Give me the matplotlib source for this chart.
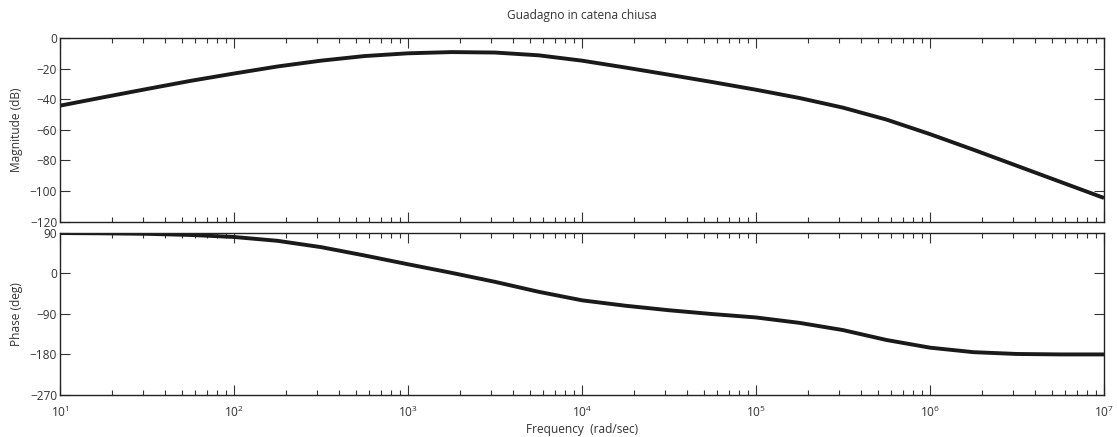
import matplotlib
matplotlib.use("Agg")
import matplotlib.pyplot as plt
from matplotlib.ticker import LogLocator, FixedLocator, NullFormatter, LogFormatterSciNotation

plt.rcParams['font.family'] = ['Open Sans', 'DejaVu Sans']
plt.rcParams['mathtext.fontset'] = 'custom'
plt.rcParams['mathtext.rm'] = 'Open Sans'

# Magnitude readings: log10 of frequency (rad/sec) and gain (dB)
mag_logf = [1.0, 1.25, 1.5, 1.75, 2.0, 2.25, 2.5, 2.75, 3.0, 3.25, 3.5, 3.75,
            4.0, 4.25, 4.5, 4.75, 5.0, 5.25, 5.5, 5.75, 6.0, 6.25, 6.5, 6.75, 7.0]
mag_db = [-44.2, -38.7, -33.3, -28.0, -23.2, -18.6, -14.8, -11.8, -10.0, -9.2, -9.5, -11.3,
          -14.8, -19.3, -24.0, -28.8, -33.8, -39.2, -45.5, -53.3, -62.8, -73.0, -83.5, -94.0, -104.5]

# Phase readings: log10 of frequency (rad/sec) and phase (deg)
ph_logf = [1.0, 1.25, 1.5, 1.75, 2.0, 2.25, 2.5, 2.75, 3.0, 3.25, 3.5, 3.75,
           4.0, 4.25, 4.5, 4.75, 5.0, 5.25, 5.5, 5.75, 6.0, 6.25, 6.5, 6.75, 7.0]
ph_deg = [89.2, 88.6, 87.5, 85.0, 80.5, 72.0, 58.0, 39.5, 20.0, 1.0, -19.0, -41.0,
          -60.0, -72.0, -82.0, -90.5, -98.0, -110.0, -126.0, -148.0, -165.0, -175.0, -179.0, -180.0, -180.0]

x_ticks = [1e1, 1e2, 1e3, 1e4, 1e5, 1e6, 1e7]
mag_ticks = [0, -20, -40, -60, -80, -100, -120]
ph_ticks = [90, 0, -90, -180, -270]

title = "Guadagno in catena chiusa"
ylab_mag = "Magnitude (dB)"
ylab_ph = "Phase (deg)"
xlab = "Frequency  (rad/sec)"

mag_freq = [10 ** v for v in mag_logf]
ph_freq = [10 ** v for v in ph_logf]

W, H = 1117, 437
fig = plt.figure(figsize=(W / 100, H / 100), dpi=100)
left = 60 / W
width = (1104 - 60) / W
ax1 = fig.add_axes([left, 1 - 221.7 / H, width, (221.7 - 38) / H])
ax2 = fig.add_axes([left, 1 - 395 / H, width, (395 - 232.7) / H])

fs = 8.6
tc = '#333333'
for ax in (ax1, ax2):
    ax.set_xscale('log')
    ax.set_xlim(10, 1e7)
    ax.xaxis.set_major_locator(FixedLocator(x_ticks))
    ax.xaxis.set_major_formatter(LogFormatterSciNotation())
    ax.xaxis.set_minor_locator(LogLocator(base=10, subs=range(2, 10), numticks=100))
    ax.xaxis.set_minor_formatter(NullFormatter())
    ax.tick_params(which='both', direction='in', top=True, right=True,
                   labelsize=fs, colors=tc)
    ax.tick_params(which='major', length=7, width=0.8)
    ax.tick_params(which='minor', length=3.5, width=0.8)
    for s in ax.spines.values():
        s.set_linewidth(1.0)
        s.set_color('#222222')

ax1.plot(mag_freq, mag_db, color='#1a1a1a', lw=2.8, solid_capstyle='butt',
         solid_joinstyle='round')
ax1.set_ylim(-120, 0)
ax1.yaxis.set_major_locator(FixedLocator(mag_ticks))
ax1.tick_params(axis='x', which='both', labelbottom=False)
ax1.tick_params(axis='y', pad=2)
ax1.set_ylabel(ylab_mag, fontsize=fs, color=tc, labelpad=5)

ax2.plot(ph_freq, ph_deg, color='#1a1a1a', lw=2.8, solid_capstyle='butt',
         solid_joinstyle='round')
ax2.set_ylim(-270, 90)
ax2.yaxis.set_major_locator(FixedLocator(ph_ticks))
ax2.tick_params(axis='y', pad=2)
ax2.set_ylabel(ylab_ph, fontsize=fs, color=tc, labelpad=5)
ax2.tick_params(axis='x', pad=7)
ax2.set_xlabel(xlab, fontsize=fs, color=tc, labelpad=2)

ax1.set_title(title, fontsize=fs, color=tc, pad=14)

fig.savefig("out.png", dpi=100)
